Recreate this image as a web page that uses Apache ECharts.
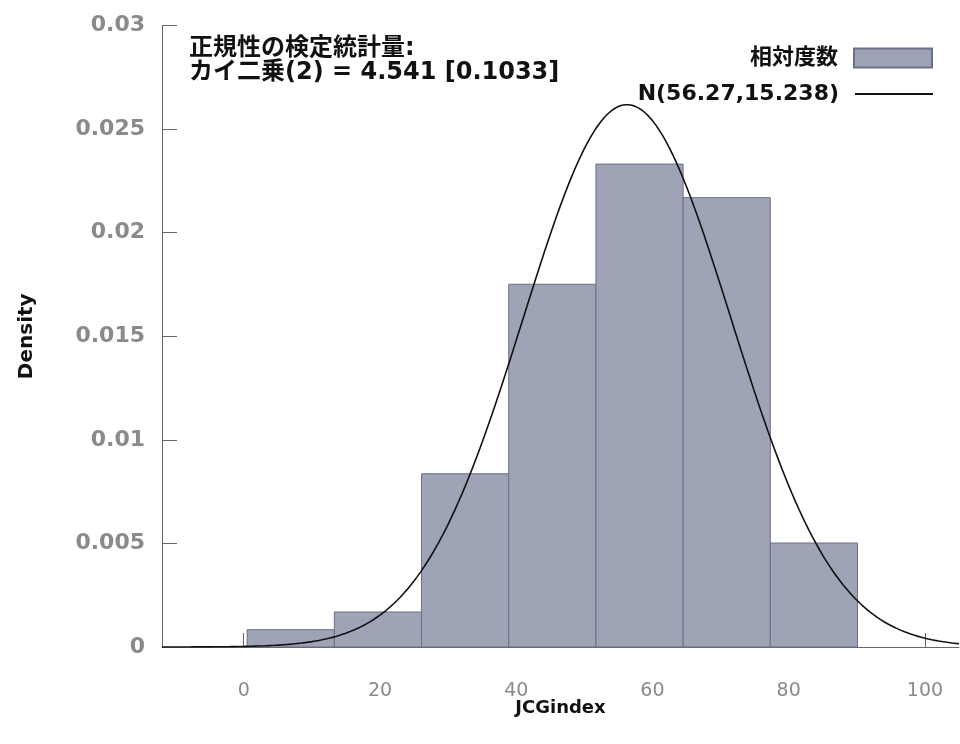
<!DOCTYPE html>
<html>
<head>
<meta charset="utf-8">
<title>JCGindex</title>
<script src="https://cdn.jsdelivr.net/npm/echarts@6/dist/echarts.min.js"></script>
<style>
  html, body { margin: 0; padding: 0; background: #ffffff; }
  #chart { width: 960px; height: 744px; }
</style>
</head>
<body>
<div id="chart"></div>
<script>
// Histogram bins of JCGindex (lower edge, upper edge) and their relative frequency density
const binLower = [0.5, 13.3, 26.1, 38.9, 51.7, 64.5, 77.3];
const binUpper = [13.3, 26.1, 38.9, 51.7, 64.5, 77.3, 90.1];
const binDensity = [0.000835, 0.00169, 0.008365, 0.01751, 0.02331, 0.02169, 0.00502];

// Fitted normal distribution parameters
const normMean = 56.27;
const normSd = 15.238;

// Axis ticks
const xTicks = [0, 20, 40, 60, 80, 100];
const yTicks = [0, 0.005, 0.01, 0.015, 0.02, 0.025, 0.03];

// Test statistic annotation
const statLines = ['正規性の検定統計量:', 'カイ二乗(2) = 4.541 [0.1033]'];
const histName = '相対度数';
const normName = 'N(' + normMean + ',' + normSd + ')';

const FONT = '"DejaVu Sans", "Noto Sans CJK JP", sans-serif';

const histData = binLower.map((lo, i) => [lo, binUpper[i], binDensity[i]]);

// Normal density curve sampled over the visible x-range
const xMin = -12, xMax = 105;
const curveData = [];
for (let x = xMin; x <= xMax + 1e-9; x += 0.5) {
  const z = (x - normMean) / normSd;
  curveData.push([x, Math.exp(-0.5 * z * z) / (normSd * Math.sqrt(2 * Math.PI))]);
}

const chart = echarts.init(document.getElementById('chart'), null, { renderer: 'canvas' });

const legendText = {
  fontFamily: FONT, fontWeight: 'bold', fontSize: 22, color: '#111',
  padding: [0, 11, 0, 0]
};

chart.setOption({
  animation: false,
  backgroundColor: '#ffffff',
  title: {
    text: statLines.join('\n'),
    left: 184,
    top: 32,
    textStyle: {
      fontFamily: FONT, fontWeight: 'bold', fontSize: 24, color: '#111', lineHeight: 24
    }
  },
  legend: [
    {
      data: [{ name: histName, icon: 'rect' }], right: 22, top: 42, orient: 'vertical', align: 'right',
      itemWidth: 78, itemHeight: 19, textStyle: legendText, selectedMode: false
    },
    {
      data: [{ name: normName, icon: 'rect', itemStyle: { color: '#111', borderWidth: 0 } }],
      right: 22, top: 78, orient: 'vertical', align: 'right',
      itemWidth: 78, itemHeight: 2, textStyle: legendText, selectedMode: false
    }
  ],
  grid: { left: 162, right: 1, top: 25.5, bottom: 97 },
  xAxis: {
    type: 'value', min: xMin, max: xMax,
    name: 'JCGindex', nameLocation: 'middle', nameGap: 52, nameMoveOverlap: false,
    nameTextStyle: { fontFamily: FONT, fontWeight: 'bold', fontSize: 18, color: '#111' },
    axisLine: { show: true, onZero: false, lineStyle: { color: '#666', width: 1 } },
    axisTick: { show: true, inside: true, length: 14, customValues: xTicks, lineStyle: { color: '#666' } },
    axisLabel: {
      customValues: xTicks, margin: 35,
      fontFamily: FONT, fontSize: 19, color: '#8a8a8a'
    },
    splitLine: { show: false }
  },
  yAxis: {
    type: 'value', min: 0, max: 0.03, interval: 0.005,
    name: 'Density', nameLocation: 'middle', nameGap: 125, nameRotate: 90,
    nameTextStyle: { fontFamily: FONT, fontWeight: 'bold', fontSize: 20, color: '#111' },
    axisLine: { show: true, onZero: false, lineStyle: { color: '#666', width: 1 } },
    axisTick: { show: true, inside: true, length: 15, lineStyle: { color: '#666' } },
    axisLabel: {
      margin: 17, fontFamily: FONT, fontWeight: 'bold', fontSize: 22, color: '#8a8a8a',
      formatter: v => String(parseFloat(v.toFixed(3)))
    },
    splitLine: { show: false }
  },
  series: [
    {
      name: histName,
      type: 'custom',
      data: histData,
      itemStyle: { color: '#9ea3b6', borderColor: '#6b7088', borderWidth: 1 },
      renderItem: function (params, api) {
        const p0 = api.coord([api.value(0), 0]);
        const p1 = api.coord([api.value(1), api.value(2)]);
        return {
          type: 'rect',
          shape: { x: p0[0], y: p1[1], width: p1[0] - p0[0], height: p0[1] - p1[1] },
          style: { fill: '#9ea3b6', stroke: '#6b7088', lineWidth: 1 }
        };
      },
      encode: { x: [0, 1], y: 2 }
    },
    {
      name: normName,
      type: 'line',
      data: curveData,
      symbol: 'none',
      smooth: false,
      lineStyle: { color: '#111', width: 1.6 },
      itemStyle: { color: '#111' },
      z: 3
    }
  ]
});
</script>
</body>
</html>
